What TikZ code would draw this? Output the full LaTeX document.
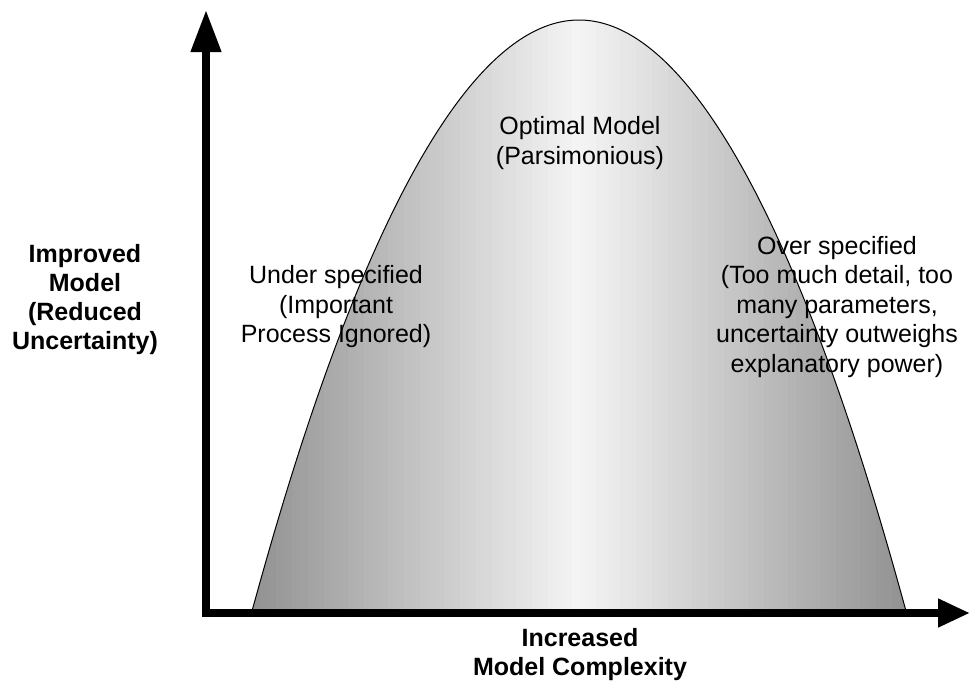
\documentclass[tikz,border=0pt]{standalone}
\usepackage{fontspec}
\setmainfont{Liberation Sans}
\usepackage{xcolor}
\usetikzlibrary{arrows.meta,positioning}

\begin{document}
\begin{tikzpicture}[x=1pt,y=-1pt,
  lbl/.style={align=center,inner sep=0pt,font=\fontsize{25}{29.5}\selectfont},
  bold lbl/.style={lbl,font=\fontsize{25}{29}\selectfont\bfseries}]
\useasboundingbox (0,0) rectangle (971,683);
\def\hill{(252,611) parabola bend (579,20) (906,611)}
  % grey strips, dark at the sides, light in the middle
  \begin{scope}
    \clip \hill -- cycle;
    \foreach \i in {0,...,82} {
      \pgfmathsetmacro{\xa}{252+8*\i}
      \pgfmathsetmacro{\greylevel}{4+39*abs(\xa+4-579)/327}
      \fill[black!\greylevel] (\xa,0) rectangle (\xa+8.6,613);
    }
  \end{scope}
  \draw[line width=1pt] \hill;
  \coordinate (origin) at (206,613);
  \coordinate (ytip) at (206,10);
  \coordinate (xtip) at (970,613);
  \draw[line width=7.5pt,line join=miter,line cap=butt,
        {Triangle[length=42pt,width=29pt]}-{Triangle[length=32pt,width=27pt]}]
        (ytip) -- (origin) -- (xtip);
  \node[bold lbl] (ylabel) at (85,300) {Improved\\Model\\(Reduced\\Uncertainty)};
  \node[bold lbl] (xlabel) at (580,655) {Increased\\Model Complexity};
  \node[lbl] (under) at (336,307) {Under specified\\(Important\\Process Ignored)};
  \node[lbl] (optimal) at (580,143) {Optimal Model\\(Parsimonious)};
  \node[lbl] (over) at (837,307) {Over specified\\(Too much detail, too\\many parameters,\\uncertainty outweighs\\explanatory power)};
\end{tikzpicture}
\end{document}
